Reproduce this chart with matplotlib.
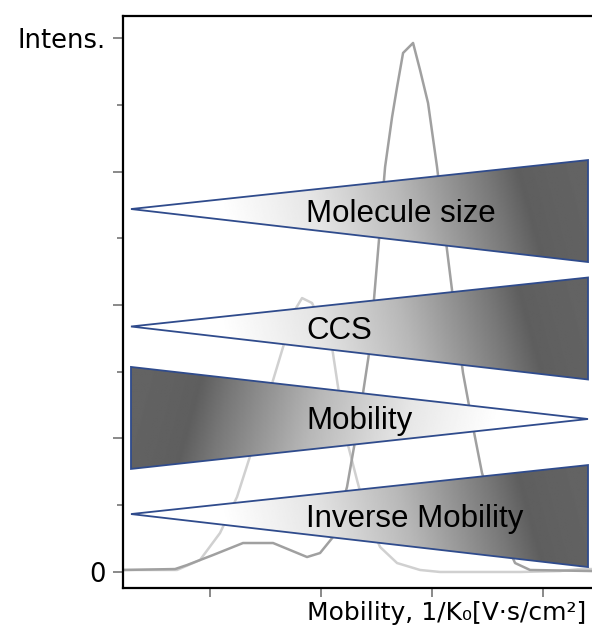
import numpy as np
import matplotlib
matplotlib.use('Agg')
import matplotlib.pyplot as plt
from matplotlib.patches import Polygon

# ---- data ----
mobility_dark = [0.216, 0.685, 0.793, 1.027, 1.297, 1.568, 1.874, 1.991, 2.108, 2.234,
                 2.351, 2.441, 2.577, 2.640, 2.685, 2.739, 2.829, 2.892, 2.964, 3.045,
                 3.135, 3.180, 3.279, 3.369, 3.450, 3.613, 3.748, 3.883, 4.441]
intensity_dark = [0.015, 0.022, 0.052, 0.127, 0.217, 0.217, 0.112, 0.142, 0.262, 0.637,
                  1.191, 1.685, 3.034, 3.408, 3.633, 3.888, 3.963, 3.760, 3.513, 3.034,
                  2.412, 2.112, 1.491, 1.086, 0.742, 0.315, 0.067, 0.015, 0.007]

mobility_light = [0.216, 0.703, 0.910, 1.090, 1.243, 1.387, 1.541, 1.658, 1.748, 1.829,
                  1.919, 2.009, 2.099, 2.171, 2.243, 2.324, 2.414, 2.532, 2.685, 2.892,
                  3.072, 3.793, 4.153, 4.333, 4.441]
intensity_light = [0.015, 0.015, 0.090, 0.292, 0.562, 0.936, 1.363, 1.685, 1.940, 2.052,
                   2.015, 1.850, 1.685, 1.288, 0.951, 0.689, 0.412, 0.187, 0.067, 0.015,
                   0.0, 0.0, 0.007, 0.022, 0.022]

ytick_major = [0, 1, 2, 3, 4]
ytick_labels = ['0', '', '', '', 'Intens.']
ytick_minor = [0.5, 1.5, 2.5, 3.5]
xtick_major = [1, 2, 3, 4]

arrow_labels = ['Molecule size', 'CCS', 'Mobility', 'Inverse Mobility']
arrow_increasing = [True, True, False, True]
arrow_centers = [2.704, 1.824, 1.154, 0.419]

xlabel = 'Mobility, 1/K\u2080[V\u00b7s/cm\u00b2]'

# ---- figure ----
fig = plt.figure(figsize=(5.92, 6.33), dpi=100)
ax = fig.add_axes([123/592, 1 - 588/633, 1 - 123/592, (588 - 16)/633])

ax.plot(mobility_light, intensity_light, color='#d0d0d0', lw=1.8, zorder=2)
ax.plot(mobility_dark, intensity_dark, color='#a0a0a0', lw=1.8, zorder=2)

# gradient wedges
x_narrow_left, x_wide = 0.288, 4.405
half_h = 0.382
edge_col = '#2f4b8c'

def shade(s):
    # s: 0 at narrow end, 1 at wide end
    return np.interp(s, [0, 0.2, 0.4, 0.6, 0.8, 0.87, 1.0],
                     [1.0, 1.0, 0.9, 0.72, 0.47, 0.37, 0.39])

for lab, inc, yc in zip(arrow_labels, arrow_increasing, arrow_centers):
    if inc:
        verts = [(x_narrow_left, yc + 0.015), (x_wide, yc + half_h), (x_wide, yc - half_h)]
    else:
        verts = [(x_narrow_left, yc + half_h), (x_narrow_left, yc - half_h), (x_wide, yc - 0.008)]
    nx, ny = 400, 60
    xs = np.linspace(0, 1, nx)
    ys = np.linspace(0, 1, ny)
    X, Y = np.meshgrid(xs, ys)
    s = X if inc else 1 - X
    s = s + 0.06 * (Y - 0.5)
    img = shade(np.clip(s, 0, 1))
    poly = Polygon(verts, closed=True, facecolor='none', edgecolor=edge_col,
                   lw=1.3, zorder=4, joinstyle='miter')
    ax.add_patch(poly)
    im = ax.imshow(img, cmap='gray', vmin=0, vmax=1, aspect='auto', origin='lower',
                   extent=[x_narrow_left, x_wide, yc - half_h, yc + half_h],
                   interpolation='bilinear', zorder=3)
    im.set_clip_path(poly)
    ax.text(1.865, yc - 0.022, lab, ha='left', va='center', fontsize=22.5,
            family='Liberation Sans', color='black', zorder=5)

ax.set_xlim(0.216, 4.441)
ax.set_ylim(-0.12, 4.165)

for sp in ['left', 'top', 'bottom']:
    ax.spines[sp].set_linewidth(1.6)
    ax.spines[sp].set_color('black')
ax.spines['right'].set_visible(False)

ax.set_yticks(ytick_major)
ax.set_yticklabels(ytick_labels)
ax.set_yticks(ytick_minor, minor=True)
ax.set_xticks(xtick_major)
ax.set_xticklabels([])
ax.tick_params(axis='y', which='major', length=7.5, width=1.3, color='#808080',
               labelsize=18.5, pad=5, direction='out')
ax.tick_params(axis='y', which='minor', length=4.5, width=1.3, color='#808080',
               direction='out')
ax.tick_params(axis='x', which='major', length=6.5, width=1.3, color='#808080',
               direction='out')
for t in ax.get_yticklabels():
    t.set_family('DejaVu Sans')

fig.text(586/592, 1 - 613/633, xlabel, ha='right', va='center', fontsize=18,
         family='DejaVu Sans')

fig.savefig('out.png', dpi=100)
